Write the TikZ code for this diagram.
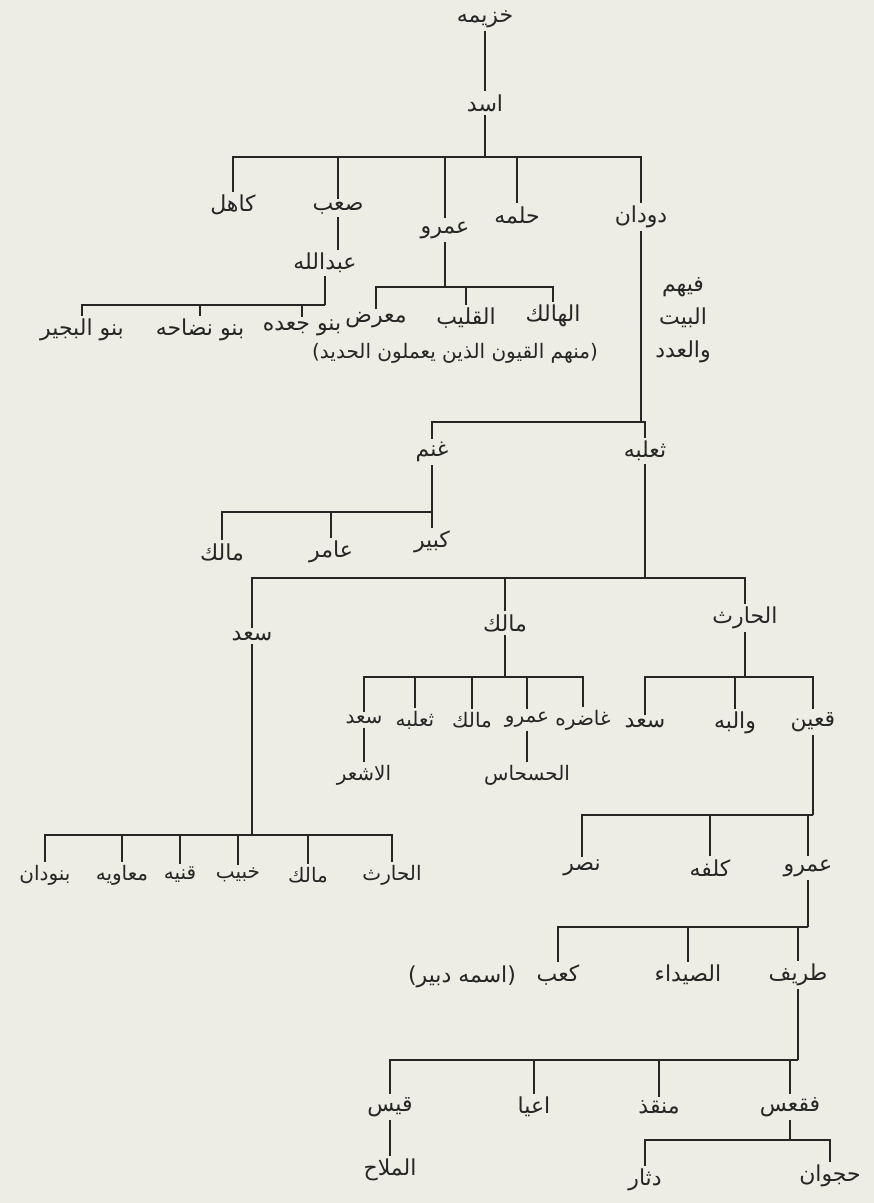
\documentclass[tikz,border=0pt]{standalone}
\usepackage{fontspec}
\newfontfamily\arabicfont[Script=Arabic]{DejaVu Sans}
\TeXXeTstate=1
\newcommand{\arab}[1]{{\arabicfont\beginR #1\endR}}
\definecolor{paper}{RGB}{237,237,229}
\definecolor{ink}{RGB}{38,38,38}
\tikzset{
  person/.style={inner sep=3pt, text=ink, font=\fontsize{22}{26}\selectfont},
  tight/.style={person, font=\fontsize{20}{24}\selectfont},
  kin/.style={draw=ink, line width=1.7pt},
}

\begin{document}
\begin{tikzpicture}[x=1pt, y=-1pt]
      \fill[paper] (0,0) rectangle (874,1203);
      \useasboundingbox (0,0) rectangle (874,1203);
      % Khuzayma:
      %   root of the tree, father of Asad
      \node[person] (khuzayma) at (485,19) {\arab{خزيمه}};
      \node[person] (asad) at (485,103) {\arab{اسد}};
      \draw[kin] (khuzayma) -- (asad);
      % sons of Asad
      \coordinate (barasad) at (485,157);
      \node[person] (kahil) at (233,205) {\arab{كاهل}};
      \node[person] (saab) at (338,208) {\arab{صعب}};
      \node[person] (amr) at (445,230) {\arab{عمرو}};
      \node[person] (halma) at (517,215) {\arab{حلمه}};
      \node[person] (dudan) at (641,217) {\arab{دودان}};
      \draw[kin] (asad) -- (barasad);
      \draw[kin] (kahil.north) |- (barasad) -| (dudan.north);
      \foreach \kid in {saab,amr,halma}
        \draw[kin] (\kid.north) -- (\kid.north |- barasad);
      % Saab:
      %   Abdallah and his three clans
      \node[person] (abdallah) at (325,263) {\arab{عبدالله}};
      \draw[kin] (saab.south) -- (saab.south |- abdallah.north);
      \coordinate (barabdallah) at (325,305);
      \node[person] (bujayr) at (82,330) {\arab{بنو البجير}};
      \node[person] (naddaha) at (200,330) {\arab{بنو نضاحه}};
      \node[person] (jaada) at (302,328) {\arab{بنو جعده}};
      \draw[kin] (abdallah) -- (barabdallah);
      \draw[kin] (bujayr.north) |- (barabdallah) -| (jaada.north);
      \draw[kin] (naddaha.north) -- (naddaha.north |- barabdallah);
      % Amr:
      %   Halik, Qalib and Muarrid, the smiths
      \coordinate (baramr) at (445,287);
      \node[person] (muarrid) at (376,320) {\arab{معرض}};
      \node[person] (qalib) at (466,318) {\arab{القليب}};
      \node[person] (halik) at (553,316) {\arab{الهالك}};
      \node[person, font=\fontsize{20}{24}\selectfont] (smiths) at (455,353)
        {\arab{(منهم القيون الذين يعملون الحديد)}};
      \draw[kin] (amr) -- (baramr);
      \draw[kin] (muarrid.north) |- (baramr) -| (halik.north);
      \draw[kin] (qalib.north) -- (qalib.north |- baramr);
      % Dudan:
      %   the house and the number are with them
      \node[person, align=center, font=\fontsize{22}{33}\selectfont] (dudannote) at (683,320)
        {\arab{فيهم}\\\arab{البيت}\\\arab{والعدد}};
      \coordinate (bardudan) at (641,422);
      \node[person] (ghanm) at (432,452) {\arab{غنم}};
      \node[person] (thalaba) at (645,451) {\arab{ثعلبه}};
      \draw[kin] (dudan) -- (bardudan);
      \draw[kin] (ghanm.north) |- (bardudan) -| (thalaba.north);
      % Ghanm
      \coordinate (barghanm) at (432,512);
      \node[person] (malika) at (222,552) {\arab{مالك}};
      \node[person] (amir) at (331,552) {\arab{عامر}};
      \node[person] (kabir) at (432,542) {\arab{كبير}};
      \draw[kin] (ghanm) -- (barghanm);
      \draw[kin] (malika.north) |- (barghanm) -| (kabir.north);
      \draw[kin] (amir.north) -- (amir.north |- barghanm);
      % Thalaba:
      %   Saad, Malik and Harith
      \coordinate (barthalaba) at (645,578);
      \node[person] (saada) at (252,636) {\arab{سعد}};
      \node[person] (malikb) at (505,623) {\arab{مالك}};
      \node[person] (haritha) at (745,618) {\arab{الحارث}};
      \draw[kin] (thalaba) -- (barthalaba);
      \draw[kin] (saada.north) |- (barthalaba) -| (haritha.north);
      \draw[kin] (malikb.north) -- (malikb.north |- barthalaba);
      % Saad son of Thalaba
      \coordinate (barsaad) at (252,835);
      \node[tight] (banudan) at (45,875) {\arab{بنودان}};
      \node[tight] (muawiya) at (122,875) {\arab{معاويه}};
      \node[tight] (qunayya) at (180,875) {\arab{قنيه}};
      \node[tight] (khubayb) at (238,875) {\arab{خبيب}};
      \node[tight] (malikc) at (308,875) {\arab{مالك}};
      \node[tight] (harithb) at (392,875) {\arab{الحارث}};
      \draw[kin] (saada) -- (barsaad);
      \draw[kin] (banudan.north) |- (barsaad) -| (harithb.north);
      \foreach \kid in {muawiya,qunayya,khubayb,malikc}
        \draw[kin] (\kid.north) -- (\kid.north |- barsaad);
      % Malik son of Thalaba
      \coordinate (barmalik) at (505,677);
      \node[tight] (saadb) at (364,720) {\arab{سعد}};
      \node[tight] (thalabab) at (415,720) {\arab{ثعلبه}};
      \node[tight] (malikd) at (472,720) {\arab{مالك}};
      \node[tight] (amrb) at (527,720) {\arab{عمرو}};
      \node[tight] (ghadira) at (583,720) {\arab{غاضره}};
      \node[tight] (ashar) at (364,775) {\arab{الاشعر}};
      \node[tight] (hashas) at (527,775) {\arab{الحسحاس}};
      \draw[kin] (malikb) -- (barmalik);
      \draw[kin] (saadb.north) |- (barmalik) -| (ghadira.north);
      \foreach \kid in {thalabab,malikd,amrb}
        \draw[kin] (\kid.north) -- (\kid.north |- barmalik);
      \draw[kin] (saadb) -- (ashar);
      \draw[kin] (amrb) -- (hashas);
      % Harith son of Thalaba
      \coordinate (barharith) at (745,677);
      \node[person] (saadc) at (645,723) {\arab{سعد}};
      \node[person] (waliba) at (735,723) {\arab{والبه}};
      \node[person] (quayn) at (813,722) {\arab{قعين}};
      \draw[kin] (haritha) -- (barharith);
      \draw[kin] (saadc.north) |- (barharith) -| (quayn.north);
      \draw[kin] (waliba.north) -- (waliba.north |- barharith);
      % Quayn
      \coordinate (barquayn) at (813,815);
      \node[person] (nasr) at (582,868) {\arab{نصر}};
      \node[person] (kalfa) at (710,868) {\arab{كلفه}};
      \node[person] (amrc) at (808,868) {\arab{عمرو}};
      \draw[kin] (quayn) -- (barquayn);
      \draw[kin] (nasr.north) |- (barquayn) -| (amrc.north);
      \draw[kin] (kalfa.north) -- (kalfa.north |- barquayn);
      % Amr son of Quayn
      \coordinate (baramrc) at (808,927);
      \node[person] (kaab) at (558,975) {\arab{كعب}};
      \node[person] (kaabnote) at (462,977) {\arab{(اسمه دبير)}};
      \node[person] (sayda) at (688,975) {\arab{الصيداء}};
      \node[person] (tarif) at (798,975) {\arab{طريف}};
      \draw[kin] (amrc) -- (baramrc);
      \draw[kin] (kaab.north) |- (baramrc) -| (tarif.north);
      \draw[kin] (sayda.north) -- (sayda.north |- baramrc);
      % Tarif
      \coordinate (bartarif) at (798,1060);
      \node[person] (qays) at (390,1107) {\arab{قيس}};
      \node[person] (ayya) at (534,1107) {\arab{اعيا}};
      \node[person] (munqidh) at (659,1107) {\arab{منقذ}};
      \node[person] (faqas) at (790,1107) {\arab{فقعس}};
      \node[person] (mallah) at (390,1170) {\arab{الملاح}};
      \draw[kin] (tarif) -- (bartarif);
      \draw[kin] (qays.north) |- (bartarif) -| (faqas.north);
      \foreach \kid in {ayya,munqidh}
        \draw[kin] (\kid.north) -- (\kid.north |- bartarif);
      \draw[kin] (qays) -- (mallah);
      % Faqas
      \coordinate (barfaqas) at (790,1140);
      \node[person] (dithar) at (645,1180) {\arab{دثار}};
      \node[person] (hajwan) at (830,1176) {\arab{حجوان}};
      \draw[kin] (faqas) -- (barfaqas);
      \draw[kin] (dithar.north) |- (barfaqas) -| (hajwan.north);
\end{tikzpicture}
\end{document}
